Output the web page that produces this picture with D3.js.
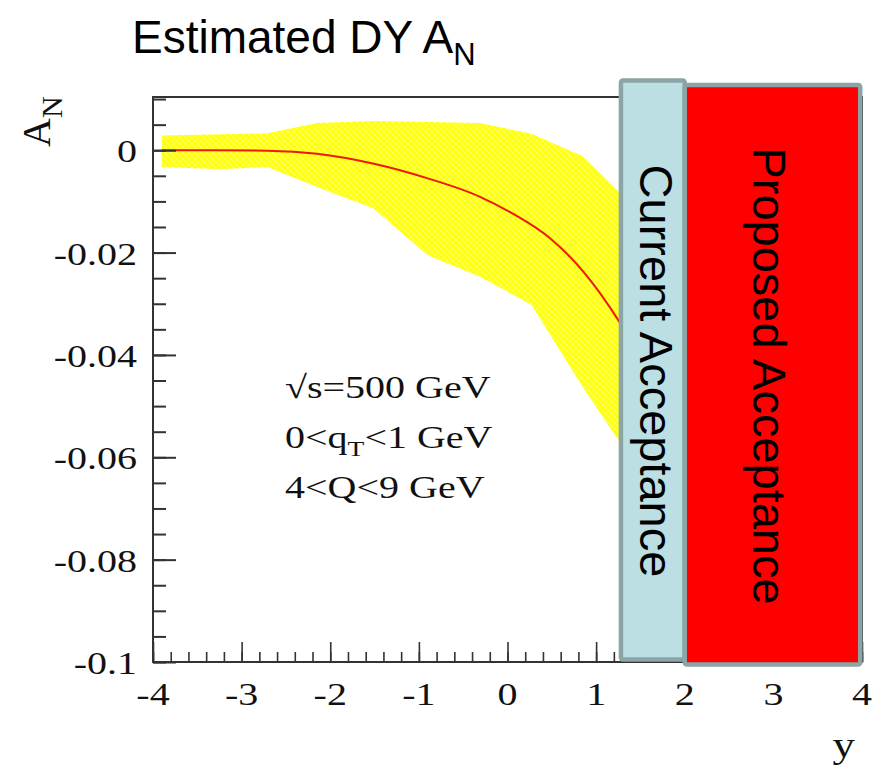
<!DOCTYPE html>
<html>
<head>
<meta charset="utf-8">
<script src="https://cdn.jsdelivr.net/npm/d3@7"></script>
<style>
  body { margin: 0; background: #fff; }
  svg { display: block; }
</style>
</head>
<body>
<div class="plot"></div>
<script>
// values
var xTicks = [-4, -3, -2, -1, 0, 1, 2, 3, 4];
var xTickLabels = ["-4", "-3", "-2", "-1", "0", "1", "2", "3", "4"];
var yTicks = [0, -0.02, -0.04, -0.06, -0.08, -0.1];
var yTickLabels = ["0", "-0.02", "-0.04", "-0.06", "-0.08", "-0.1"];

// central estimate
var curveY = [-3.9, -3.3, -2.71, -2.15, -1.52, -0.9, -0.31, 0.05, 0.48, 0.86, 1.25, 1.4];
var curveAN = [0, 0, -0.0001, -0.0007, -0.0026, -0.0055, -0.0091, -0.0123, -0.0172, -0.0238, -0.0332, -0.0375];

// uncertainty band
var bandY = [-3.9, -3.24, -2.71, -2.15, -1.52, -0.9, -0.31, 0.27, 0.85, 1.3];
var bandUpper = [0.0029, 0.0031, 0.0033, 0.0053, 0.0057, 0.0055, 0.0053, 0.0032, -0.0012, -0.0088];
var bandLower = [-0.0033, -0.0037, -0.0033, -0.0072, -0.0113, -0.0205, -0.0247, -0.0302, -0.0463, -0.0579];

// rapidity ranges of the two acceptance boxes
var currentRange = [1.28, 2.0];
var proposedRange = [2.0, 3.98];

var noteLines = ["\u221As=500 GeV", "0<q|T|<1 GeV", "4<Q<9 GeV"];

var W = 877, H = 766;
var margin = {top: 97, right: 15, bottom: 104, left: 153};
var SX = 1.25; // the original plot is stretched sideways
var serif = "'Liberation Serif', 'Times New Roman', serif";
var sans = "'Liberation Sans', Arial, sans-serif";

var svg = d3.select(".plot").append("svg")
  .attr("width", W)
  .attr("height", H);

var x = d3.scaleLinear().domain([-4, 4]).range([margin.left, W - margin.right]);
var y = d3.scaleLinear().domain([-0.1, 0.0104]).range([H - margin.bottom, margin.top]);

// faint hatch for the band
var defs = svg.append("defs");
var pat = defs.append("pattern")
  .attr("id", "hatch")
  .attr("patternUnits", "userSpaceOnUse")
  .attr("width", 6).attr("height", 6);
pat.append("rect").attr("width", 6).attr("height", 6).attr("fill", "#ffff10");
pat.append("path").attr("d", "M0,0 L6,6 M6,0 L0,6")
  .attr("stroke", "#ffff78").attr("stroke-width", 0.7);

var band = bandY.map(function(v, i) { return {v: v, hi: bandUpper[i], lo: bandLower[i]}; });
svg.append("path")
  .datum(band)
  .attr("fill", "url(#hatch)")
  .attr("d", d3.area()
    .x(function(d) { return x(d.v); })
    .y0(function(d) { return y(d.lo); })
    .y1(function(d) { return y(d.hi); }));

var curve = curveY.map(function(v, i) { return {v: v, a: curveAN[i]}; });
svg.append("path")
  .datum(curve)
  .attr("fill", "none")
  .attr("stroke", "#f01800")
  .attr("stroke-width", 2)
  .attr("d", d3.line()
    .curve(d3.curveMonotoneX)
    .x(function(d) { return x(d.v); })
    .y(function(d) { return y(d.a); }));

// frame
svg.append("rect")
  .attr("x", x(-4)).attr("y", y(0.0104))
  .attr("width", x(4) - x(-4)).attr("height", y(-0.1) - y(0.0104))
  .attr("fill", "none").attr("stroke", "#333").attr("stroke-width", 2);

// y axis ticks
var yMinor = d3.range(-0.1, 0.0101, 0.005);
svg.append("g")
  .attr("transform", "translate(" + x(-4) + ",0)")
  .call(d3.axisRight(y).tickValues(yMinor).tickSize(13).tickFormat(""))
  .call(function(g) { g.select(".domain").remove(); g.selectAll("line").attr("stroke", "#333").attr("stroke-width", 2); });
svg.append("g")
  .attr("transform", "translate(" + x(-4) + ",0)")
  .call(d3.axisRight(y).tickValues(yTicks).tickSize(23).tickFormat(""))
  .call(function(g) { g.select(".domain").remove(); g.selectAll("line").attr("stroke", "#333").attr("stroke-width", 2); });

// x axis ticks
var xMinor = d3.range(-4, 4.001, 0.2);
svg.append("g")
  .attr("transform", "translate(0," + y(-0.1) + ")")
  .call(d3.axisTop(x).tickValues(xMinor).tickSize(10).tickFormat(""))
  .call(function(g) { g.select(".domain").remove(); g.selectAll("line").attr("stroke", "#333").attr("stroke-width", 1.6); });
svg.append("g")
  .attr("transform", "translate(0," + y(-0.1) + ")")
  .call(d3.axisTop(x).tickValues(xTicks).tickSize(20).tickFormat(""))
  .call(function(g) { g.select(".domain").remove(); g.selectAll("line").attr("stroke", "#333").attr("stroke-width", 1.6); });

// stretched serif text, like the pasted plot
function serifText(px, py, anchor, size) {
  return svg.append("g")
    .attr("transform", "translate(" + px + "," + py + ") scale(" + SX + ",1)")
    .append("text")
      .attr("text-anchor", anchor)
      .style("font-family", serif)
      .style("font-size", size + "px")
      .attr("fill", "#111");
}

yTicks.forEach(function(t, i) {
  serifText(x(-4) - 16, y(t) + 12, "end", 32).text(yTickLabels[i]);
});
xTicks.forEach(function(t, i) {
  serifText(x(t), y(-0.1) + 43, "middle", 32).text(xTickLabels[i]);
});
serifText(855, 757, "end", 36).text("y");

// y axis title A_N
var yt = svg.append("text")
  .attr("transform", "translate(50,147) rotate(-90)")
  .style("font-family", serif)
  .style("font-size", "40px")
  .attr("fill", "#111");
yt.append("tspan").text("A");
yt.append("tspan").attr("dy", 12).style("font-size", "30px").text("N");

// kinematics note
noteLines.forEach(function(line, i) {
  var t = serifText(x(-2.51), y(-0.0485) + i * 50, "start", 32);
  var parts = line.split("|");
  t.append("tspan").text(parts[0]);
  if (parts.length > 1) {
    t.append("tspan").attr("dy", 8).style("font-size", "22px").text(parts[1]);
    t.append("tspan").attr("dy", -8).text(parts[2]);
  }
});

// acceptance boxes
svg.append("rect")
  .attr("x", x(currentRange[0])).attr("y", 80.5)
  .attr("width", x(currentRange[1]) - x(currentRange[0])).attr("height", 579)
  .attr("rx", 2)
  .attr("fill", "#bbdfe3").attr("stroke", "#8ba5a6").attr("stroke-width", 4.5);
svg.append("rect")
  .attr("x", x(proposedRange[0])).attr("y", 85)
  .attr("width", x(proposedRange[1]) - x(proposedRange[0])).attr("height", 579.5)
  .attr("rx", 2)
  .attr("fill", "#ff0000").attr("stroke", "#8ba5a6").attr("stroke-width", 4.5);

svg.append("text")
  .attr("transform", "translate(640,371) rotate(90)")
  .attr("text-anchor", "middle")
  .style("font-family", sans)
  .style("font-size", "47px")
  .text("Current Acceptance");
svg.append("text")
  .attr("transform", "translate(753,376) rotate(90)")
  .attr("text-anchor", "middle")
  .style("font-family", sans)
  .style("font-size", "47px")
  .text("Proposed Acceptance");

// title
var title = svg.append("text")
  .attr("x", 132).attr("y", 53)
  .style("font-family", sans)
  .style("font-size", "46px")
  .attr("fill", "#000");
title.append("tspan").text("Estimated DY A");
title.append("tspan").attr("dy", 12).style("font-size", "31px").text("N");
</script>
</body>
</html>
